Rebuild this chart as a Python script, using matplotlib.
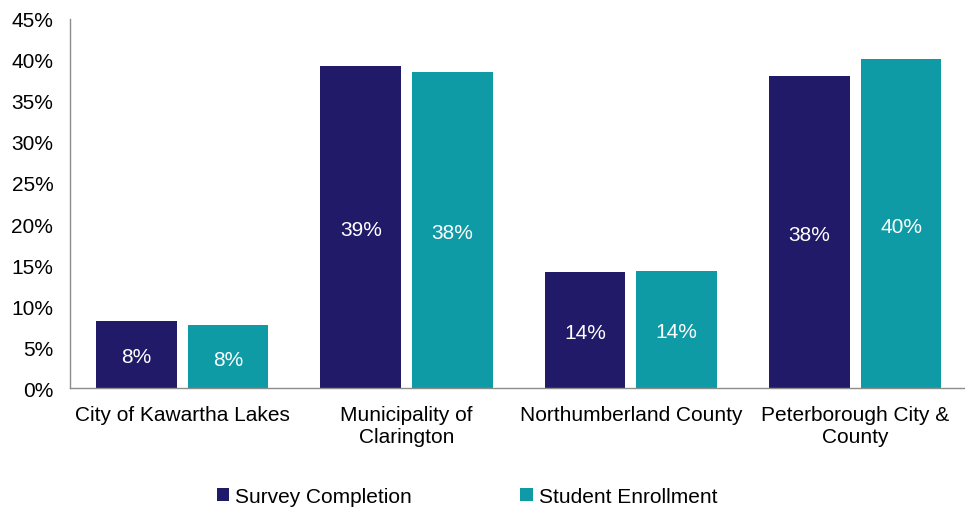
import numpy as np
import matplotlib.pyplot as plt
from matplotlib.ticker import FuncFormatter

plt.rcParams['font.family'] = ['Liberation Sans', 'DejaVu Sans']

regions = ['City of Kawartha Lakes', 'Municipality of\nClarington',
           'Northumberland County', 'Peterborough City &\nCounty']
survey = [8.2, 39.3, 14.1, 38.0]
enrollment = [7.7, 38.5, 14.3, 40.1]

navy = '#201A68'
teal = '#0E9BA5'

fig = plt.figure(figsize=(9.65, 5.1), dpi=100)
ax = fig.add_axes([0.0725, 0.237, 0.93, 0.724])

x = np.arange(len(regions))
w = 0.36
off = 0.204
b1 = ax.bar(x - off, survey, w, color=navy, label='Survey Completion')
b2 = ax.bar(x + off, enrollment, w, color=teal, label='Student Enrollment')

# value labels in the middle of each bar
for bars in (b1, b2):
    for b in bars:
        h = b.get_height()
        ax.text(b.get_x() + b.get_width() / 2, h / 2 - 0.3, f'{h:.0f}%',
                ha='center', va='center', color='white', fontsize=15)

ax.set_xlim(-0.5, len(regions) - 0.5)
ax.set_ylim(0, 45)
ax.set_yticks(range(0, 46, 5))
ax.yaxis.set_major_formatter(FuncFormatter(lambda v, p: f'{v:.0f}%'))
ax.set_xticks(x)
ax.set_xticklabels(regions, fontsize=15)
ax.tick_params(axis='y', labelsize=15, length=0, pad=12)
ax.tick_params(axis='x', length=0, pad=12)
for s in ('top', 'right'):
    ax.spines[s].set_visible(False)
for s in ('left', 'bottom'):
    ax.spines[s].set_color('#8c8c8c')
    ax.spines[s].set_linewidth(1)

fig.legend(loc='center', bbox_to_anchor=(0.484, 0.025), ncol=2, frameon=False,
           fontsize=15, handlelength=0.6, handleheight=0.6, handletextpad=0.3,
           columnspacing=5.2)

fig.savefig('out.png', dpi=100)
